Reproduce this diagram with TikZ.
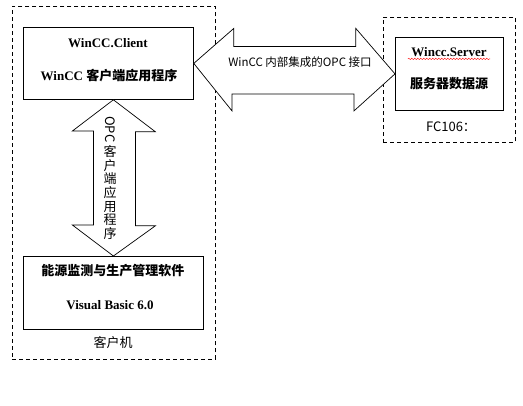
\documentclass[tikz,border=0pt]{standalone}
\usepackage{fontspec}
\setmainfont{Liberation Serif}
\newfontfamily\cjk{Noto Sans CJK SC}
\usetikzlibrary{decorations.pathmorphing}
\begin{document}
\begin{tikzpicture}[x=1pt,y=-1pt,
  box/.style={draw, line width=0.8pt, inner sep=0pt},
  grp/.style={draw, dash pattern=on 4pt off 3pt, line width=0.7pt, inner sep=0pt},
  arr/.style={draw, fill=white, line width=0.7pt, line join=miter},
  ttl/.style={font=\fontsize{13}{15}\selectfont\bfseries},
  lbl/.style={font=\fontsize{13}{15}\selectfont\cjk}]
\useasboundingbox[fill=white] (0,0) rectangle (523,405);
% groups
\node[grp, minimum width=203pt, minimum height=353pt, anchor=north west] (pc) at (12,6) {};
\node[grp, minimum width=132pt, minimum height=125pt, anchor=north west] (srvgrp) at (383,17) {};
% boxes
\node[box, minimum width=170pt, minimum height=72pt, anchor=north west] (client) at (23,27) {};
\node[box, minimum width=180pt, minimum height=73pt, anchor=north west] (app) at (23,256) {};
\node[box, minimum width=108pt, minimum height=73pt, anchor=north west] (server) at (395,37) {};
% box texts
\node[ttl] (ct1) at (108,43) {WinCC.Client};
\node[ttl] (ct2) at (109,76) {WinCC {\cjk 客户端应用程序}};
\node[ttl] (at1) at (113,271) {\cjk 能源监测与生产管理软件};
\node[ttl] (at2) at (110,305) {Visual Basic 6.0};
\node[ttl] (st1) at (449,52) {Wincc.Server};
\draw[red, line width=0.4pt, decorate, decoration={snake, amplitude=0.7pt, segment length=3pt}]
  ([yshift=-2.5pt]st1.base west) -- ([yshift=-2.5pt]st1.base east);
\node[ttl] (st2) at (449,84) {\cjk 服务器数据源};
\node[lbl] (fc) at (451,127) {FC106：};
\node[lbl] (pcl) at (113,343) {客户机};
% horizontal double arrow
\draw[arr] (client.east) -- ++(40,-35) -- ++(0,18) -- ++(122,0) -- ++(0,-18)
  -- (server.west) -- ++(-41,37) -- ++(0,-17) -- ++(-122,0) -- ++(0,17) -- cycle;
\node[font=\fontsize{11.5}{14}\selectfont\cjk] (hl) at (300,62) {WinCC 内部集成的OPC 接口};
% vertical double arrow
\draw[arr] (client.south -| app.north) -- ++(42,32) -- ++(-20,0) -- ++(0,94) -- ++(20,0)
  -- (app.north) -- ++(-41,-31) -- ++(21,0) -- ++(0,-94) -- ++(-21,0) -- cycle;
\node[font=\fontsize{13}{13.7}\selectfont\cjk, align=center, inner sep=0pt] (vl) at (110,178)
  {\rotatebox{-90}{OPC}\\[2pt]客\\户\\端\\应\\用\\程\\序};
\end{tikzpicture}
\end{document}
